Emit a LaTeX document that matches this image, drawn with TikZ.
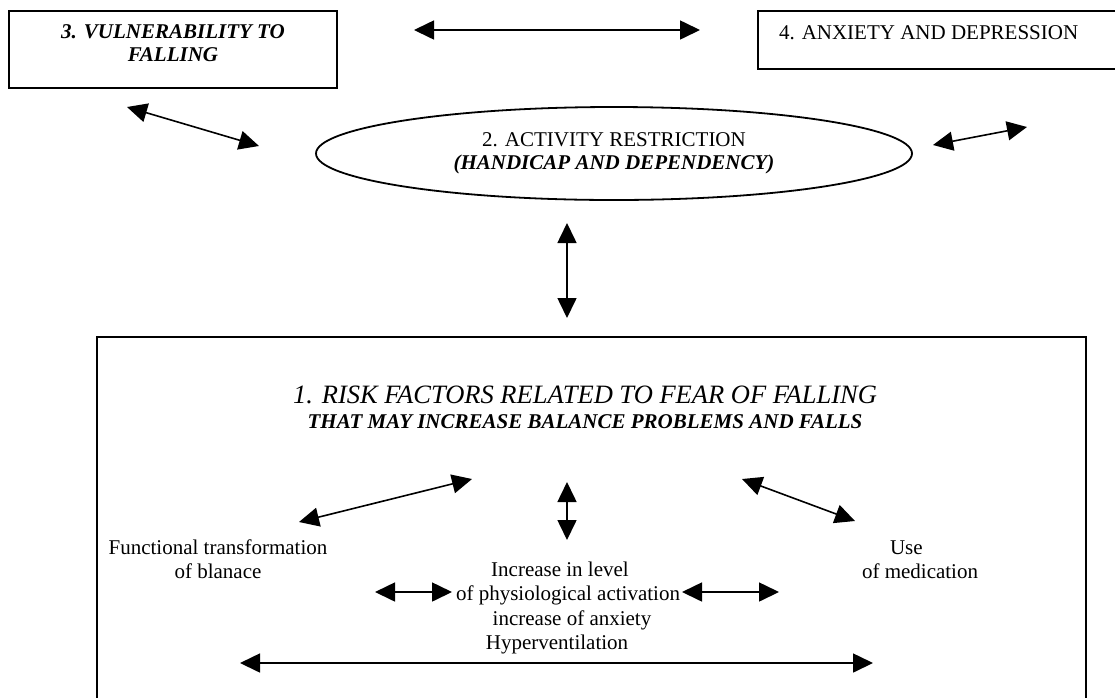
\documentclass[tikz,border=0pt]{standalone}
\usepackage{fontspec}
\setmainfont{Liberation Serif}
\usetikzlibrary{arrows.meta,shapes.geometric}
\begin{document}
\begin{tikzpicture}[x=1pt,y=-1pt,
  every node/.style={font=\fontsize{21}{24}\selectfont, inner sep=0pt, outer sep=0pt},
  txt/.style={align=center},
  bi/.style={font=\fontsize{21}{23}\selectfont\bfseries\itshape},
  dbl/.style={{Triangle[length=20pt,width=19pt]}-{Triangle[length=20pt,width=19pt]}, line width=1.6pt},
  frame/.style={draw, line width=2pt}]
\clip (0,0) rectangle (1115,697);
\useasboundingbox (0,0) rectangle (1115,697);
% box 3
\node[frame, minimum width=328pt, minimum height=77pt] (b3) at (173,49.5) {};
\node[bi, txt] (t3) at ([yshift=6pt]b3.center) {3. VULNERABILITY TO\\FALLING};
% box 4
\node[frame, minimum width=362pt, minimum height=58pt] (b4) at (939,40) {};
\node[anchor=west] (t4) at (779,33) {4. ANXIETY AND DEPRESSION};
% ellipse 2
\node[draw, ellipse, line width=1.8pt, minimum width=596pt, minimum height=93pt] (e2) at (614,153.5) {};
\node[txt, font=\fontsize{21}{23}\selectfont] (t2) at (614,153.5) {2. ACTIVITY RESTRICTION\\\textbf{\textit{(HANDICAP AND DEPENDENCY)}}};
% big box 1
\node[frame, anchor=north west, minimum width=989pt, minimum height=420pt] (b1) at (97,337) {};
\node[font=\fontsize{26.5}{28}\selectfont\itshape] (t1a) at (585,395) {1. RISK FACTORS RELATED TO FEAR OF FALLING};
\node[bi] (t1b) at (585,422) {THAT MAY INCREASE BALANCE PROBLEMS AND FALLS};
% inner texts
\node[txt] (fb) at (218,559) {Functional transformation\\of blanace};
\node[align=left, anchor=west] (um) at (862,559.5) {\hspace*{28pt}Use\\of medication};
\node[txt, font=\fontsize{21}{24.6}\selectfont] (ph) at (566,608) {Increase in level\hspace*{12pt}\\\hspace*{4pt}of physiological activation\\\hspace*{12pt}increase of anxiety\\Hyperventilation\hspace*{18pt}};
% arrow end points
\coordinate (a1) at (414,30);   \coordinate (a2) at (700,30);
\coordinate (a3) at (127,107);  \coordinate (a4) at (259,146);
\coordinate (a5) at (933,145);  \coordinate (a6) at (1027,127);
\coordinate (a7) at (567,223);  \coordinate (a8) at (567,318);
\coordinate (c1) at (299,522);  \coordinate (c2) at (472,479);
\coordinate (c3) at (567,482);  \coordinate (c4) at (567,540);
\coordinate (c5) at (742,479);  \coordinate (c6) at (855,521);
\coordinate (c7) at (375,592);  \coordinate (c8) at (452,592);
\coordinate (c9) at (682,592);  \coordinate (c10) at (779,592);
\coordinate (c11) at (240,663); \coordinate (c12) at (873,663);
% arrows
\draw[dbl] (a1) -- (a2);
\draw[dbl] (a3) -- (a4);
\draw[dbl] (a5) -- (a6);
\draw[dbl] (a7) -- (a8);
\draw[dbl] (c1) -- (c2);
\draw[dbl] (c3) -- (c4);
\draw[dbl] (c5) -- (c6);
\draw[dbl] (c7) -- (c8);
\draw[dbl] (c9) -- (c10);
\draw[dbl] (c11) -- (c12);
\end{tikzpicture}
\end{document}
